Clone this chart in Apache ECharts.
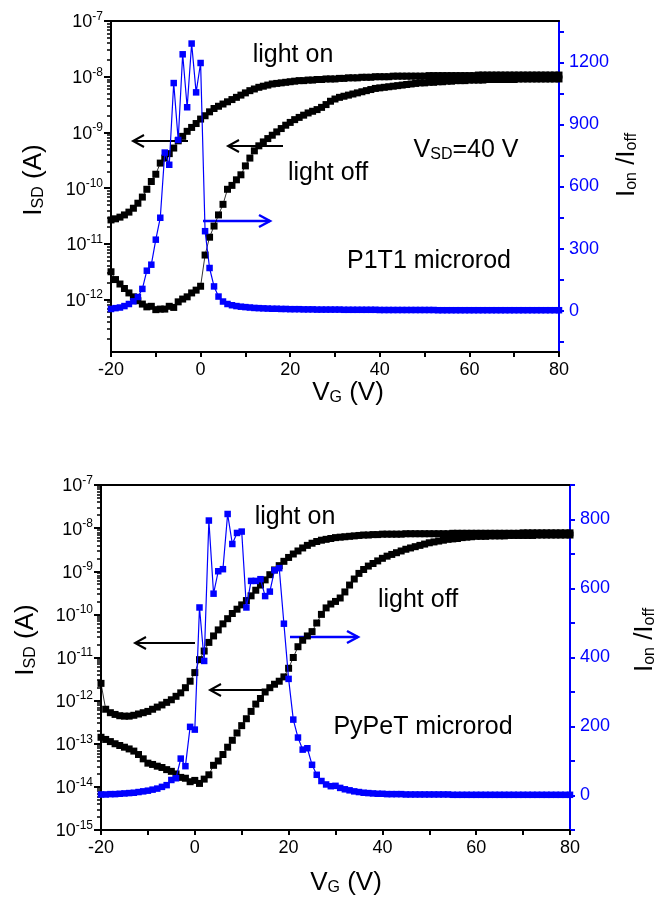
<!DOCTYPE html>
<html>
<head>
<meta charset="UTF-8">
<title>Transfer curves</title>
<script src="https://cdn.jsdelivr.net/npm/echarts@6/dist/echarts.min.js"></script>
<style>html,body{margin:0;padding:0;background:#fff;}</style>
</head>
<body>
<div id="chart" style="width:662px;height:899px;"></div>
<script>
// gate voltage sweep (V)
var vg = [-20,-19,-18,-17,-16,-15,-14,-13,-12,-11,-10,-9,-8,-7,-6,-5,-4,-3,-2,-1,
  0,1,2,3,4,5,6,7,8,9,10,11,12,13,14,15,16,17,18,19,20,21,22,23,24,25,26,27,28,29,
  30,31,32,33,34,35,36,37,38,39,40,41,42,43,44,45,46,47,48,49,50,51,52,53,54,55,56,57,58,59,
  60,61,62,63,64,65,66,67,68,69,70,71,72,73,74,75,76,77,78,79,80];

// P1T1 microrod: log10(I_SD / A)
var p1On = [-10.57,-10.55,-10.52,-10.48,-10.43,-10.36,-10.27,-10.16,-10.02,-9.88,
  -9.75,-9.55,-9.46,-9.38,-9.28,-9.15,-9.07,-8.98,-8.91,-8.84,
  -8.76,-8.70,-8.63,-8.57,-8.53,-8.49,-8.45,-8.41,-8.37,-8.33,
  -8.29,-8.25,-8.22,-8.19,-8.17,-8.15,-8.13,-8.12,-8.11,-8.10,
  -8.09,-8.08,-8.07,-8.07,-8.06,-8.06,-8.05,-8.05,-8.04,-8.04,
  -8.04,-8.03,-8.03,-8.02,-8.02,-8.02,-8.01,-8.01,-8.01,-8.00,
  -8.00,-8.00,-8.00,-7.99,-7.99,-7.99,-7.99,-7.99,-7.99,-7.99,
  -7.99,-7.98,-7.98,-7.98,-7.98,-7.98,-7.98,-7.98,-7.98,-7.98,
  -7.98,-7.98,-7.97,-7.97,-7.97,-7.97,-7.97,-7.97,-7.97,-7.97,
  -7.97,-7.97,-7.97,-7.97,-7.97,-7.97,-7.97,-7.97,-7.97,-7.97,-7.97];
var p1Off = [-11.50,-11.64,-11.72,-11.80,-11.88,-11.95,-12.02,-12.08,-12.13,-12.12,
  -12.18,-12.17,-12.17,-12.12,-12.14,-12.04,-11.99,-11.95,-11.88,-11.83,
  -11.76,-11.20,-10.88,-10.68,-10.48,-10.29,-10.02,-9.95,-9.85,-9.76,
  -9.60,-9.46,-9.33,-9.24,-9.17,-9.11,-9.05,-8.99,-8.93,-8.87,
  -8.82,-8.77,-8.73,-8.69,-8.65,-8.62,-8.59,-8.55,-8.50,-8.44,
  -8.40,-8.37,-8.35,-8.33,-8.31,-8.29,-8.27,-8.25,-8.23,-8.21,
  -8.20,-8.19,-8.18,-8.17,-8.16,-8.15,-8.14,-8.13,-8.12,-8.11,
  -8.11,-8.10,-8.10,-8.09,-8.09,-8.08,-8.08,-8.07,-8.07,-8.07,
  -8.06,-8.06,-8.06,-8.06,-8.05,-8.05,-8.05,-8.05,-8.05,-8.05,
  -8.05,-8.04,-8.04,-8.04,-8.04,-8.04,-8.04,-8.04,-8.04,-8.04,-8.04];
var p1Ratio = [8,12,15,22,32,45,66,105,193,222,
  343,449,764,705,1100,825,1239,983,1291,1055,
  1197,384,206,117,68,44,32,26,22,19,
  17,15,13,12,11,10,9,9,8,8,
  7,7,7,6,6,6,5,5,5,5,
  5,5,4,4,4,4,4,4,4,4,
  3,3,3,3,3,3,3,3,3,3,
  3,3,3,2,2,2,2,2,2,2,
  2,2,2,2,2,2,2,2,2,2,
  2,2,2,2,2,2,2,2,2,2,2];

// PyPeT microrod: log10(I_SD / A)
var pyOn = [-11.60,-12.20,-12.28,-12.32,-12.35,-12.36,-12.36,-12.34,-12.31,-12.28,
  -12.25,-12.20,-12.15,-12.10,-12.04,-11.98,-11.90,-11.82,-11.70,-11.55,
  -11.35,-11.05,-10.85,-10.65,-10.50,-10.36,-10.22,-10.10,-9.98,-9.88,
  -9.78,-9.68,-9.57,-9.44,-9.32,-9.20,-9.08,-8.97,-8.87,-8.77,
  -8.68,-8.60,-8.53,-8.46,-8.40,-8.35,-8.31,-8.28,-8.26,-8.24,
  -8.22,-8.21,-8.20,-8.19,-8.18,-8.17,-8.16,-8.16,-8.15,-8.15,
  -8.14,-8.14,-8.14,-8.14,-8.14,-8.13,-8.13,-8.13,-8.13,-8.13,
  -8.13,-8.13,-8.13,-8.13,-8.13,-8.12,-8.12,-8.12,-8.12,-8.12,
  -8.12,-8.12,-8.12,-8.12,-8.12,-8.12,-8.12,-8.12,-8.12,-8.12,
  -8.11,-8.11,-8.11,-8.11,-8.11,-8.11,-8.11,-8.11,-8.11,-8.11,-8.11];
var pyOff = [-12.85,-12.90,-12.95,-13.00,-13.04,-13.08,-13.12,-13.17,-13.25,-13.35,
  -13.45,-13.48,-13.52,-13.55,-13.60,-13.64,-13.70,-13.78,-13.80,-13.88,
  -13.85,-13.92,-13.82,-13.72,-13.50,-13.40,-13.25,-13.08,-12.92,-12.75,
  -12.58,-12.42,-12.25,-12.08,-11.95,-11.80,-11.70,-11.62,-11.55,-11.45,
  -11.25,-11.00,-10.75,-10.60,-10.50,-10.40,-10.20,-10.00,-9.85,-9.76,
  -9.70,-9.62,-9.48,-9.32,-9.18,-9.05,-8.96,-8.88,-8.82,-8.76,
  -8.70,-8.65,-8.61,-8.57,-8.53,-8.49,-8.46,-8.43,-8.40,-8.37,
  -8.34,-8.32,-8.30,-8.28,-8.26,-8.25,-8.24,-8.22,-8.21,-8.20,
  -8.19,-8.19,-8.19,-8.18,-8.18,-8.18,-8.18,-8.17,-8.17,-8.17,
  -8.17,-8.17,-8.17,-8.16,-8.16,-8.16,-8.16,-8.16,-8.16,-8.16,-8.16];
var pyRatio = [3,3,4,4,5,6,7,8,10,12,
  14,17,20,25,30,45,50,107,85,199,
  191,545,390,797,585,650,656,816,729,761,
  765,545,622,622,627,578,591,653,659,498,
  338,220,168,133,137,89,60,42,32,27,
  28,22,18,15,12,10,8,7,6,5,
  5,4,4,4,4,3,3,3,3,3,
  3,3,3,3,3,2,2,2,2,2,
  2,2,2,2,2,2,2,2,2,2,
  2,2,2,2,2,2,2,2,2,2,2];

// axis labels and ticks
var xLabels = [-20, 0, 20, 40, 60, 80];
var xTicks = [-20, -10, 0, 10, 20, 30, 40, 50, 60, 70, 80];
var p1Decades = [-12, -11, -10, -9, -8, -7];
var pyDecades = [-15, -14, -13, -12, -11, -10, -9, -8, -7];
var p1RatioLabels = [0, 300, 600, 900, 1200];
var p1RatioTicks = [-150, 0, 150, 300, 450, 600, 750, 900, 1050, 1200, 1350];
var pyRatioLabels = [0, 200, 400, 600, 800];
var pyRatioTicks = [-100, 0, 100, 200, 300, 400, 500, 600, 700, 800, 900];

var FONT = '"Liberation Sans", Arial, sans-serif';
var BLUE = '#0000ff';

function pairs(ys) {
  return vg.map(function (v, i) { return [v, ys[i]]; });
}

// log-spaced minor ticks between the decades
function minorTicks(lo, hi) {
  var out = [];
  for (var n = Math.floor(lo); n < hi; n++) {
    for (var k = 2; k < 10; k++) {
      var t = n + Math.log10(k);
      if (t >= lo && t <= hi) out.push(t);
    }
  }
  return out;
}

var decadeRich = {
  b: { fontSize: 18, lineHeight: 21, verticalAlign: 'bottom', fontFamily: FONT, color: '#000' },
  s: { fontSize: 12, lineHeight: 12, verticalAlign: 'top', fontFamily: FONT, color: '#000' }
};

function xAxes(grid) {
  return [{
    gridIndex: grid, type: 'value', min: -20, max: 80, position: 'bottom',
    axisLine: { onZero: false, lineStyle: { color: '#000', width: 2 } },
    axisTick: { customValues: xTicks, length: 5, lineStyle: { color: '#000', width: 2 } },
    axisLabel: { customValues: xLabels, margin: 9, fontSize: 18, color: '#000', fontFamily: FONT },
    splitLine: { show: false }
  }, {
    gridIndex: grid, type: 'value', min: -20, max: 80, position: 'top',
    axisLine: { onZero: false, lineStyle: { color: '#000', width: 2 } },
    axisTick: { show: false }, axisLabel: { show: false }, splitLine: { show: false }
  }];
}

function yAxes(grid, lmin, decades, rmin, rmax, rLabels, rTicks) {
  return [{
    gridIndex: grid, type: 'value', min: lmin, max: -7, position: 'left',
    axisLine: { onZero: false, lineStyle: { color: '#000', width: 2 } },
    axisTick: { customValues: decades, length: 7, lineStyle: { color: '#000', width: 2 } },
    axisLabel: {
      customValues: decades, margin: 8,
      formatter: function (v) { return '{b|10}{s|' + Math.round(v) + '}'; },
      rich: decadeRich
    },
    splitLine: { show: false }
  }, {
    // minor ticks of the log scale
    gridIndex: grid, type: 'value', min: lmin, max: -7, position: 'left',
    axisLine: { show: true, onZero: false, lineStyle: { color: 'rgba(0,0,0,0)', width: 1 } },
    axisTick: { show: true, customValues: minorTicks(lmin, -7), length: 4, lineStyle: { color: '#000', width: 1.5 } },
    axisLabel: { show: false }, splitLine: { show: false }
  }, {
    gridIndex: grid, type: 'value', min: rmin, max: rmax, position: 'right',
    axisLine: { onZero: false, lineStyle: { color: BLUE, width: 2 } },
    axisTick: { customValues: rTicks, length: 5, lineStyle: { color: BLUE, width: 2 } },
    axisLabel: {
      customValues: rLabels, margin: 10, fontSize: 18, color: BLUE, fontFamily: FONT,
      formatter: function (v) { return String(v); }
    },
    splitLine: { show: false }
  }];
}

function blackSeries(x, y, data) {
  return {
    type: 'line', xAxisIndex: x, yAxisIndex: y, data: pairs(data),
    symbol: 'rect', symbolSize: 7, showSymbol: true,
    itemStyle: { color: '#000' }, lineStyle: { color: '#000', width: 0.8 }, z: 2
  };
}
function blueSeries(x, y, data) {
  return {
    type: 'line', xAxisIndex: x, yAxisIndex: y, data: pairs(data),
    symbol: 'rect', symbolSize: 6.5, showSymbol: true,
    itemStyle: { color: BLUE }, lineStyle: { color: BLUE, width: 1.2 }, z: 3
  };
}

// annotation helpers
function label(x, y, text, size, color, rot) {
  var c = color || '#000', fs = size || 25;
  return {
    type: 'text', x: x, y: y, rotation: rot || 0, z: 10,
    style: {
      text: text, fill: c, align: 'center', verticalAlign: 'middle',
      font: fs + 'px ' + FONT,
      rich: {
        n: { fontSize: fs, lineHeight: fs, verticalAlign: 'top', fontFamily: FONT, fill: c },
        sub: { fontSize: 16, lineHeight: 16, padding: [14, 0, 0, 0], verticalAlign: 'bottom', fontFamily: FONT, fill: c }
      }
    }
  };
}
function arrow(x1, x2, y, color, w) {
  var s = x1 > x2 ? 1 : -1;
  return {
    type: 'group', z: 10,
    children: [{
      type: 'polyline', shape: { points: [[x1, y], [x2, y]] },
      style: { stroke: color, lineWidth: w, fill: null }
    }, {
      type: 'polyline', shape: { points: [[x2 + s * 11, y - 6], [x2, y], [x2 + s * 11, y + 6]] },
      style: { stroke: color, lineWidth: w, fill: null }
    }]
  };
}

var chart = echarts.init(document.getElementById('chart'));
chart.setOption({
  animation: false,
  backgroundColor: '#fff',
  grid: [
    { left: 111, top: 21, width: 448, height: 331 },
    { left: 101, top: 485, width: 469, height: 345 }
  ],
  xAxis: xAxes(0).concat(xAxes(1)),
  yAxis: yAxes(0, -12.94, p1Decades, -200, 1400, p1RatioLabels, p1RatioTicks)
    .concat(yAxes(1, -15, pyDecades, -100, 900, pyRatioLabels, pyRatioTicks)),
  series: [
    blackSeries(0, 0, p1On),
    blackSeries(0, 0, p1Off),
    blueSeries(0, 2, p1Ratio),
    blackSeries(2, 3, pyOn),
    blackSeries(2, 3, pyOff),
    blueSeries(2, 5, pyRatio)
  ],
  graphic: [
    // top panel
    label(34, 180, '{n|I}{sub|SD}{n| (A)}', 26, '#000', Math.PI / 2),
    label(627, 165, '{n|I}{sub|on}{n| /I}{sub|off}', 26, '#000', Math.PI / 2),
    label(348, 393, '{n|V}{sub|G}{n| (V)}', 26),
    label(293, 55, 'light on', 25),
    label(328, 173, 'light off', 25),
    label(466, 150, '{n|V}{sub|SD}{n|=40 V}', 25),
    label(429, 261, 'P1T1 microrod', 25),
    arrow(188, 133, 141, '#000', 2),
    arrow(283, 228, 146, '#000', 2),
    arrow(203, 270, 221, BLUE, 2.5),
    // bottom panel
    label(26, 640, '{n|I}{sub|SD}{n| (A)}', 26, '#000', Math.PI / 2),
    label(645, 640, '{n|I}{sub|on}{n| /I}{sub|off}', 26, '#000', Math.PI / 2),
    label(346, 883, '{n|V}{sub|G}{n| (V)}', 26),
    label(295, 517, 'light on', 25),
    label(418, 600, 'light off', 25),
    label(423, 727, 'PyPeT microrod', 25),
    arrow(195, 135, 643, '#000', 2),
    arrow(265, 210, 690, '#000', 2),
    arrow(290, 358, 637, BLUE, 2.5)
  ]
});
</script>
</body>
</html>
